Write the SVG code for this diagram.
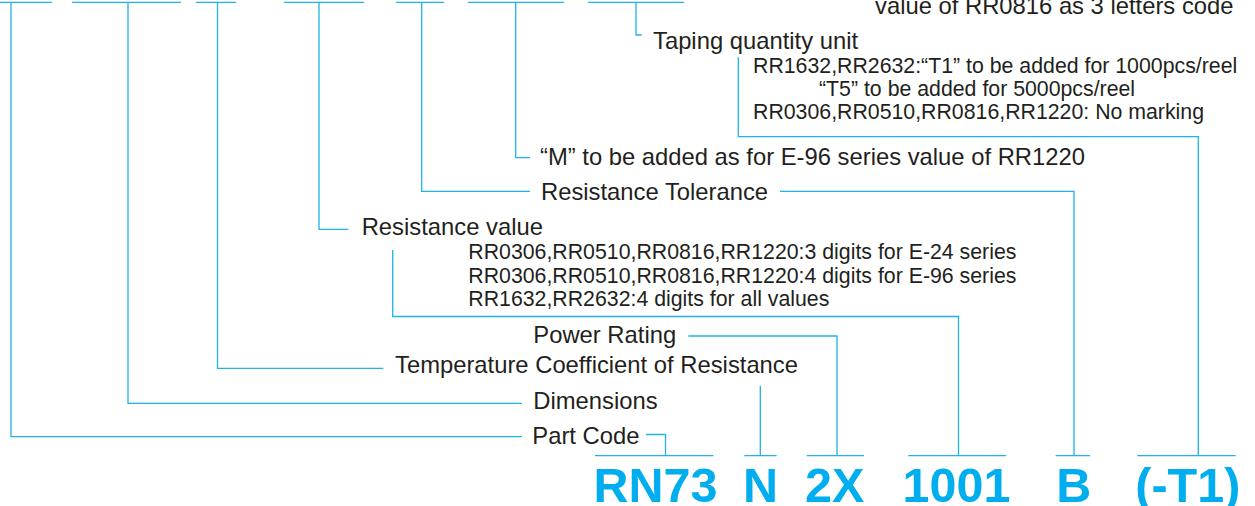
<svg xmlns="http://www.w3.org/2000/svg" width="1255" height="506" viewBox="0 0 1255 506">
<style>
.ln{fill:none;stroke:#1CB4EA;stroke-width:1.3}
.lb{font-family:"Liberation Sans",Arial,Helvetica,sans-serif;font-size:23.8px;fill:#231F20}
.sm{font-family:"Liberation Sans",Arial,Helvetica,sans-serif;font-size:21.3px;fill:#231F20}
.code{font-family:"Liberation Sans",Arial,Helvetica,sans-serif;font-size:48.5px;font-weight:bold;fill:#00AEEF;text-anchor:middle}
</style>
<rect width="1255" height="506" fill="#ffffff"/>
<g id="connectors">
<path class="ln" d="M0,2.3H52M72,2.3H181M196,2.3H236M284,2.3H364M396,2.3H444M468,2.3H564M588,2.3H684"/>
<path class="ln" d="M11,2.3V436.7H521.7"/>
<path class="ln" d="M646,434.5H665.5V455.7"/>
<path class="ln" d="M128,2.3V403.3H521.7"/>
<path class="ln" d="M760.3,385.7V455.7"/>
<path class="ln" d="M217.5,2.3V368.3H383.3"/>
<path class="ln" d="M319,2.3V229.3H348.3"/>
<path class="ln" d="M392.7,250V316.5H958.5V455.7"/>
<path class="ln" d="M421.7,2.3V191.3H530"/>
<path class="ln" d="M780,191.3H1074V455.7"/>
<path class="ln" d="M515.7,2.3V157.7H530"/>
<path class="ln" d="M636,2.3V35H641.7"/>
<path class="ln" d="M738.3,57.3V136.7H1198.3V455.7"/>
<path class="ln" d="M688.3,336H837V455.7"/>
<path class="ln" d="M595,455.7H713.5M744.3,455.7H776.7M806.7,455.7H864M908.3,455.7H1006M1055.7,455.7H1090M1137.3,455.7H1235.7"/>
</g>
<g id="taping-note">
<text class="lb" x="875" y="13.5">value of RR0816 as 3 letters code</text>
</g>
<g id="taping">
<text class="lb" x="653" y="49.3">Taping quantity unit</text>
<text class="sm" x="753" y="72.7">RR1632,RR2632:“T1” to be added for 1000pcs/reel</text>
<text class="sm" x="819" y="96">“T5” to be added for 5000pcs/reel</text>
<text class="sm" x="753" y="119.3">RR0306,RR0510,RR0816,RR1220: No marking</text>
</g>
<g id="m-note">
<text class="lb" x="540" y="165">“M” to be added as for E-96 series value of RR1220</text>
</g>
<g id="tolerance">
<text class="lb" x="541" y="199.5">Resistance Tolerance</text>
</g>
<g id="resistance-value">
<text class="lb" x="361.7" y="235">Resistance value</text>
<text class="sm" x="468.3" y="259.3">RR0306,RR0510,RR0816,RR1220:3 digits for E-24 series</text>
<text class="sm" x="468.3" y="282.5">RR0306,RR0510,RR0816,RR1220:4 digits for E-96 series</text>
<text class="sm" x="468.3" y="305.7">RR1632,RR2632:4 digits for all values</text>
</g>
<g id="power-rating">
<text class="lb" x="533.3" y="342.7">Power Rating</text>
</g>
<g id="tcr">
<text class="lb" x="395" y="372.7">Temperature Coefficient of Resistance</text>
</g>
<g id="dimensions">
<text class="lb" x="533.3" y="409.3">Dimensions</text>
</g>
<g id="part-code">
<text class="lb" x="532.3" y="444.3">Part Code</text>
</g>
<g id="code">
<text class="code" x="655.5" y="502">RN73</text>
<text class="code" x="760.5" y="502">N</text>
<text class="code" x="834.7" y="502">2X</text>
<text class="code" x="956.5" y="502">1001</text>
<text class="code" x="1073.8" y="502">B</text>
<text class="code" x="1187.8" y="502">(-T1)</text>
</g>
</svg>
